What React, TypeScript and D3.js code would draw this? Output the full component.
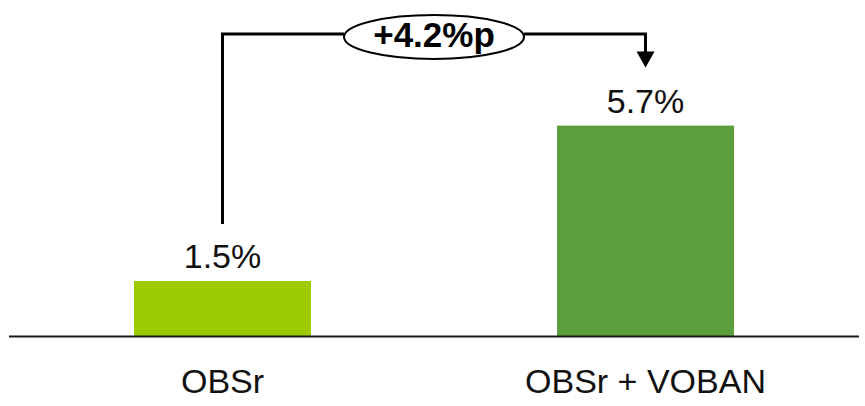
import { useEffect, useRef } from 'react';
import * as d3 from 'd3';

const categories = ['OBSr', 'OBSr + VOBAN'];
const values = [1.5, 5.7];
const barColors = ['#9BCB00', '#5A9F3B'];

export default function App() {
  const svgRef = useRef<SVGSVGElement>(null);

  useEffect(() => {
    if (!svgRef.current) return;
    const svg = d3.select(svgRef.current);
    svg.selectAll('*').remove();

    const width = 865;
    const height = 406;
    const baseY = 336.5;
    const font = '"Liberation Sans", Arial, sans-serif';

    svg.attr('width', width).attr('height', height);

    const x = d3
      .scaleBand<string>()
      .domain(categories)
      .range([11, 857])
      .paddingInner(0.5816)
      .paddingOuter(0.2908);

    const y = d3.scaleLinear().domain([0, 6]).range([baseY, baseY - 222]);

    const data = categories.map((c, i) => ({ cat: c, value: values[i], color: barColors[i] }));

    // bars
    svg
      .selectAll('.bar')
      .data(data)
      .enter()
      .append('rect')
      .attr('class', 'bar')
      .attr('x', d => x(d.cat)!)
      .attr('y', d => y(d.value))
      .attr('width', x.bandwidth())
      .attr('height', d => y(0) - y(d.value))
      .attr('fill', d => d.color);

    // baseline
    svg
      .append('line')
      .attr('x1', 9)
      .attr('x2', 859)
      .attr('y1', y(0))
      .attr('y2', y(0))
      .attr('stroke', '#1a1a1a')
      .attr('stroke-width', 2);

    // value labels
    svg
      .selectAll('.val')
      .data(data)
      .enter()
      .append('text')
      .attr('class', 'val')
      .attr('x', d => x(d.cat)! + x.bandwidth() / 2)
      .attr('y', d => y(d.value) - 13)
      .attr('text-anchor', 'middle')
      .style('font-family', font)
      .style('font-size', '34px')
      .attr('fill', '#111')
      .text(d => `${d.value.toFixed(1)}%`);

    // category labels
    svg
      .selectAll('.cat')
      .data(data)
      .enter()
      .append('text')
      .attr('class', 'cat')
      .attr('x', d => x(d.cat)! + x.bandwidth() / 2)
      .attr('y', 393)
      .attr('text-anchor', 'middle')
      .style('font-family', font)
      .style('font-size', '34px')
      .attr('fill', '#111')
      .text(d => d.cat);

    // difference annotation
    const x1 = x(categories[0])! + x.bandwidth() / 2;
    const x2 = x(categories[1])! + x.bandwidth() / 2;
    const lineY = 34;
    const startY = y(values[0]) - 57;
    const tipY = y(values[1]) - 58;
    const cx = (x1 + x2) / 2;
    const rx = 90;
    const ry = 22;

    svg
      .append('path')
      .attr('d', `M${x1},${startY} V${lineY} H${cx - rx}`)
      .attr('fill', 'none')
      .attr('stroke', '#000')
      .attr('stroke-width', 3);

    svg
      .append('path')
      .attr('d', `M${cx + rx},${lineY} H${x2} V${tipY - 14}`)
      .attr('fill', 'none')
      .attr('stroke', '#000')
      .attr('stroke-width', 3);

    svg
      .append('path')
      .attr('d', `M${x2 - 9},${tipY - 16} L${x2 + 9},${tipY - 16} L${x2},${tipY} Z`)
      .attr('fill', '#000');

    svg
      .append('ellipse')
      .attr('cx', cx)
      .attr('cy', lineY + 3)
      .attr('rx', rx)
      .attr('ry', ry)
      .attr('fill', '#fff')
      .attr('stroke', '#000')
      .attr('stroke-width', 2);

    const diff = values[1] - values[0];
    svg
      .append('text')
      .attr('x', cx)
      .attr('y', lineY + 13)
      .attr('text-anchor', 'middle')
      .style('font-family', font)
      .style('font-size', '35px')
      .style('font-weight', 'bold')
      .attr('fill', '#000')
      .text(`+${diff.toFixed(1)}%p`);
  }, []);

  return (
    <svg
      ref={svgRef}
      style={{ position: 'absolute', left: 0, top: 0, display: 'block', background: '#fff' }}
    ></svg>
  );
}
